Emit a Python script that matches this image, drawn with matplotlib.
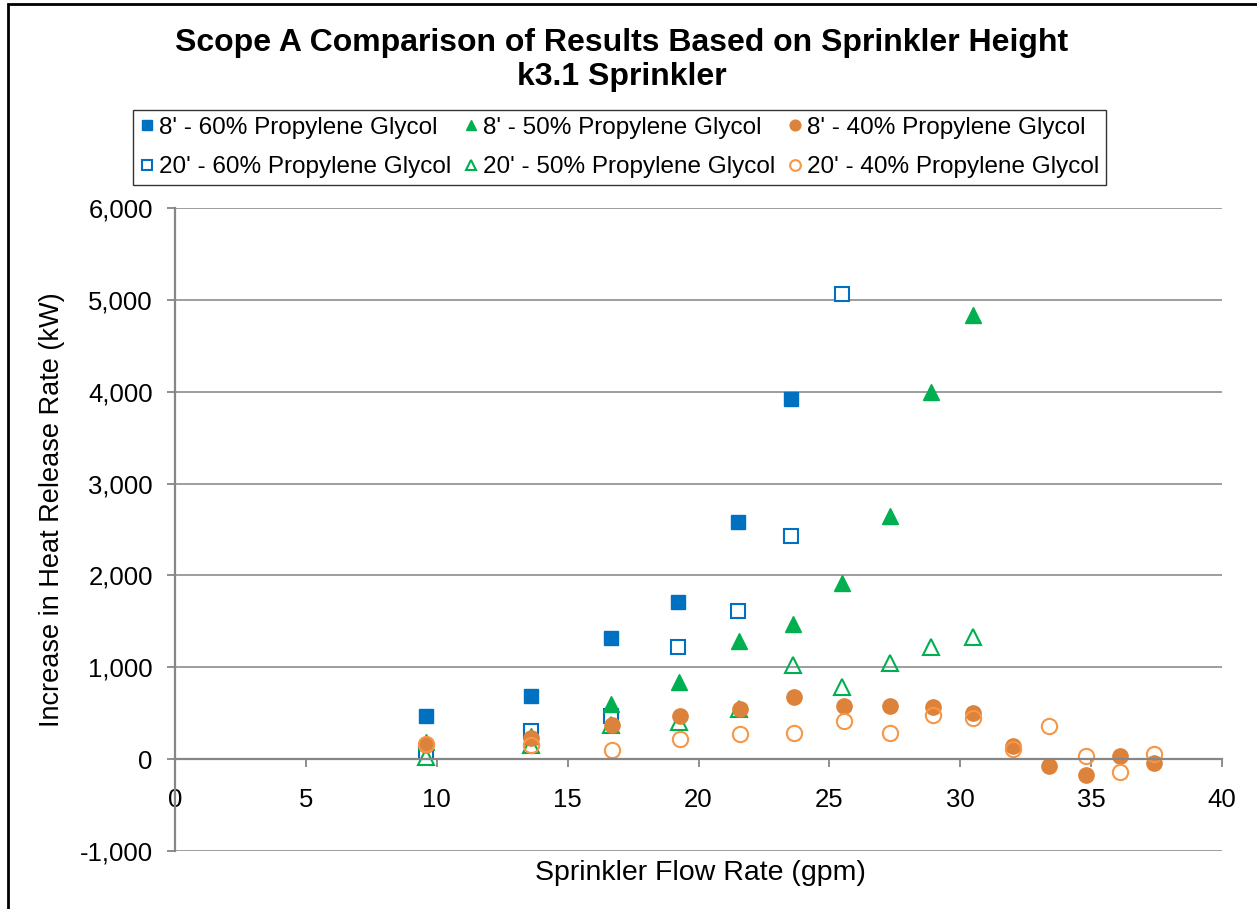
import matplotlib.pyplot as plt
from matplotlib.patches import Rectangle
from matplotlib.ticker import FuncFormatter

plt.rcParams['font.family'] = ['Liberation Sans', 'DejaVu Sans']

# flow rates (gpm) at which each series was measured
flow_60 = [9.6, 13.6, 16.65, 19.2, 21.5, 23.55]
flow_60_20 = [9.6, 13.6, 16.65, 19.2, 21.5, 23.55, 25.5]
flow_50 = [9.6, 13.6, 16.65, 19.25, 21.55, 23.6, 25.5, 27.3, 28.9, 30.5]
flow_40 = [9.6, 13.6, 16.7, 19.3, 21.6, 23.65, 25.55, 27.3, 28.95, 30.5,
           32.0, 33.4, 34.8, 36.1, 37.4]

# increase in heat release rate (kW)
hrr_8_60 = [470, 690, 1320, 1715, 2580, 3920]
hrr_20_60 = [80, 310, 470, 1225, 1610, 2425, 5060]
hrr_8_50 = [190, 250, 600, 845, 1285, 1475, 1920, 2650, 4000, 4840]
hrr_20_50 = [25, 155, 370, 400, 545, 1030, 790, 1045, 1220, 1330]
hrr_8_40 = [150, 235, 370, 470, 545, 680, 580, 580, 565, 505,
            145, -75, -170, 35, -45]
hrr_20_40 = [160, 150, 100, 215, 270, 290, 415, 290, 480, 445,
             115, 365, 35, -140, 55]

blue = '#0070C0'
green = '#00B050'
orange = '#DC823A'
orange_light = '#F79646'

fig = plt.figure(figsize=(12.57, 9.09), dpi=100)
ax = fig.add_axes([175 / 1257, 1 - 851 / 909, (1222 - 175) / 1257, (851 - 208) / 909])

s1, = ax.plot(flow_60, hrr_8_60, 's', ms=10, color=blue, mec=blue, label="8' - 60% Propylene Glycol")
s2, = ax.plot(flow_60_20, hrr_20_60, 's', ms=10, mfc='white', mec=blue, mew=1.5,
              label="20' - 60% Propylene Glycol")
s3, = ax.plot(flow_50, hrr_8_50, '^', ms=11, color=green, label="8' - 50% Propylene Glycol")
s4, = ax.plot(flow_50, hrr_20_50, '^', ms=11, mfc='none', mec=green, mew=1.5,
              label="20' - 50% Propylene Glycol")
s5, = ax.plot(flow_40, hrr_8_40, 'o', ms=11, color=orange, label="8' - 40% Propylene Glycol")
s6, = ax.plot(flow_40, hrr_20_40, 'o', ms=11, mfc='none', mec=orange_light, mew=1.5,
              label="20' - 40% Propylene Glycol")

ax.set_xlim(0, 40)
ax.set_ylim(-1000, 6000)
ax.set_xticks(range(0, 41, 5))
ax.set_yticks(range(-1000, 6001, 1000))
ax.yaxis.set_major_formatter(FuncFormatter(lambda v, p: f'{int(v):,}'))
ax.grid(axis='y', color='#8c8c8c', lw=1.2)
ax.set_axisbelow(True)

for side in ['top', 'right']:
    ax.spines[side].set_visible(False)
ax.spines['bottom'].set_position(('data', 0))
ax.spines['bottom'].set_color('#868686')
ax.spines['left'].set_color('#868686')
ax.spines['bottom'].set_linewidth(1.6)
ax.spines['left'].set_linewidth(1.6)
ax.tick_params(axis='x', direction='out', length=6, width=1.3, color='#868686',
               labelsize=18.5, pad=15)
ax.tick_params(axis='y', direction='out', length=6, width=1.3, color='#868686',
               labelsize=18.5, pad=10)

fig.text(52 / 1257, 1 - 510 / 909, 'Increase in Heat Release Rate (kW)', rotation=90,
         ha='center', va='center', fontsize=19.5)
fig.text(700 / 1257, 1 - 873 / 909, 'Sprinkler Flow Rate (gpm)',
         ha='center', va='center', fontsize=20.5)
fig.text(622 / 1257, 1 - 43 / 909, 'Scope A Comparison of Results Based on Sprinkler Height',
         ha='center', va='center', fontsize=23, fontweight='bold')
fig.text(622 / 1257, 1 - 77 / 909, 'k3.1 Sprinkler',
         ha='center', va='center', fontsize=23, fontweight='bold')

leg = fig.legend(handles=[s1, s2, s3, s4, s5, s6], ncol=3, loc='upper left',
                 bbox_to_anchor=(133 / 1257, 1 - 110 / 909), fontsize=17.5,
                 frameon=True, fancybox=False, edgecolor='black', markerscale=0.7,
                 handlelength=0.6, handletextpad=0.2, columnspacing=0.5,
                 borderpad=0.28, labelspacing=0.72, borderaxespad=0)
leg.get_frame().set_linewidth(1.0)

# outer chart border
fig.patches.append(Rectangle((8 / 1257, -0.1), 1.2, 1 - 4 / 909 + 0.1, transform=fig.transFigure,
                             fill=False, edgecolor='black', lw=2))

fig.savefig('out.png', dpi=100)
